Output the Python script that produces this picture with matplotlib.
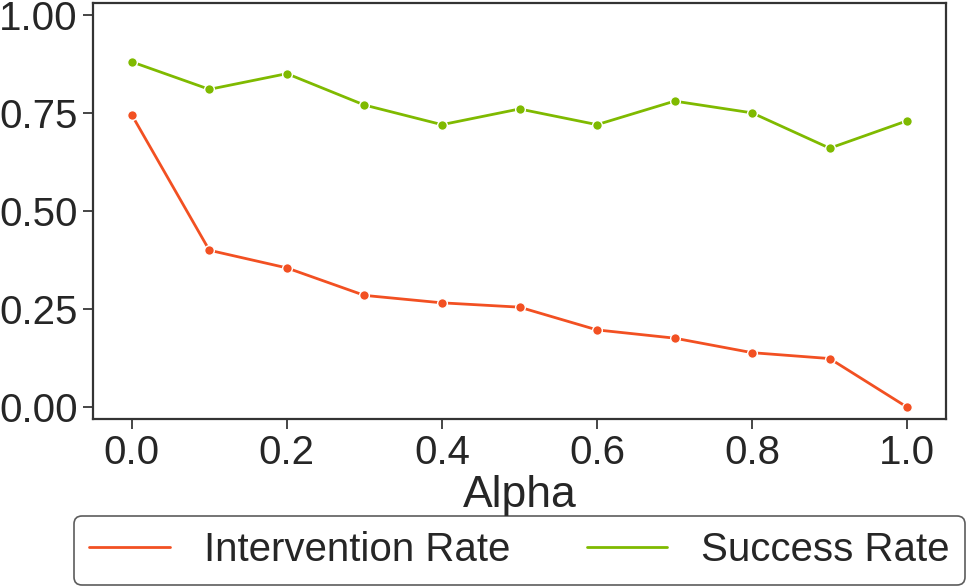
import matplotlib
matplotlib.use("Agg")
import matplotlib.pyplot as plt
from matplotlib.lines import Line2D
import seaborn as sns

# data
alpha = [0.0, 0.1, 0.2, 0.3, 0.4, 0.5, 0.6, 0.7, 0.8, 0.9, 1.0]
intervention_rate = [0.745, 0.40, 0.355, 0.285, 0.266, 0.255, 0.197, 0.176, 0.139, 0.124, 0.0]
success_rate = [0.88, 0.81, 0.85, 0.77, 0.72, 0.76, 0.72, 0.78, 0.75, 0.66, 0.73]

red = "#F25022"
green = "#7FBA00"

sns.set_style("ticks")
plt.rcParams['font.family'] = ['Liberation Sans', 'DejaVu Sans']

fig, ax = plt.subplots(figsize=(9.68, 5.86), dpi=100)
fig.subplots_adjust(left=93/968, right=946/968, top=1-3/586, bottom=1-419/586)

ax.plot(alpha, intervention_rate, color=red, lw=2, marker="o", ms=7,
        markeredgecolor="white", markeredgewidth=1)
ax.plot(alpha, success_rate, color=green, lw=2, marker="o", ms=7,
        markeredgecolor="white", markeredgewidth=1)

ax.set_xlim(-0.05, 1.05)
ax.set_ylim(-0.03, 1.03)
ax.set_xticks([0.0, 0.2, 0.4, 0.6, 0.8, 1.0])
ax.set_yticks([0.0, 0.25, 0.5, 0.75, 1.0])
ax.set_yticklabels(["0.00", "0.25", "0.50", "0.75", "1.00"])
ax.tick_params(labelsize=29, colors="#262626", length=7, width=1.2, pad=4)
ax.set_xlabel("Alpha", fontsize=32, color="#262626", labelpad=2)
for s in ax.spines.values():
    s.set_color("#333333")
    s.set_linewidth(1.6)

handles = [Line2D([], [], color=red, lw=2), Line2D([], [], color=green, lw=2)]
leg = fig.legend(handles, ["Intervention Rate", "Success Rate"], loc="upper center",
                 bbox_to_anchor=(519.5/968, 1 - 516/586), ncol=2, fontsize=29,
                 frameon=True, handlelength=2.0, handletextpad=0.85,
                 columnspacing=1.9, borderpad=0.38, borderaxespad=0)
leg.get_frame().set_edgecolor("#333333")
leg.get_frame().set_linewidth(1.2)

fig.savefig("out.png", dpi=100)
